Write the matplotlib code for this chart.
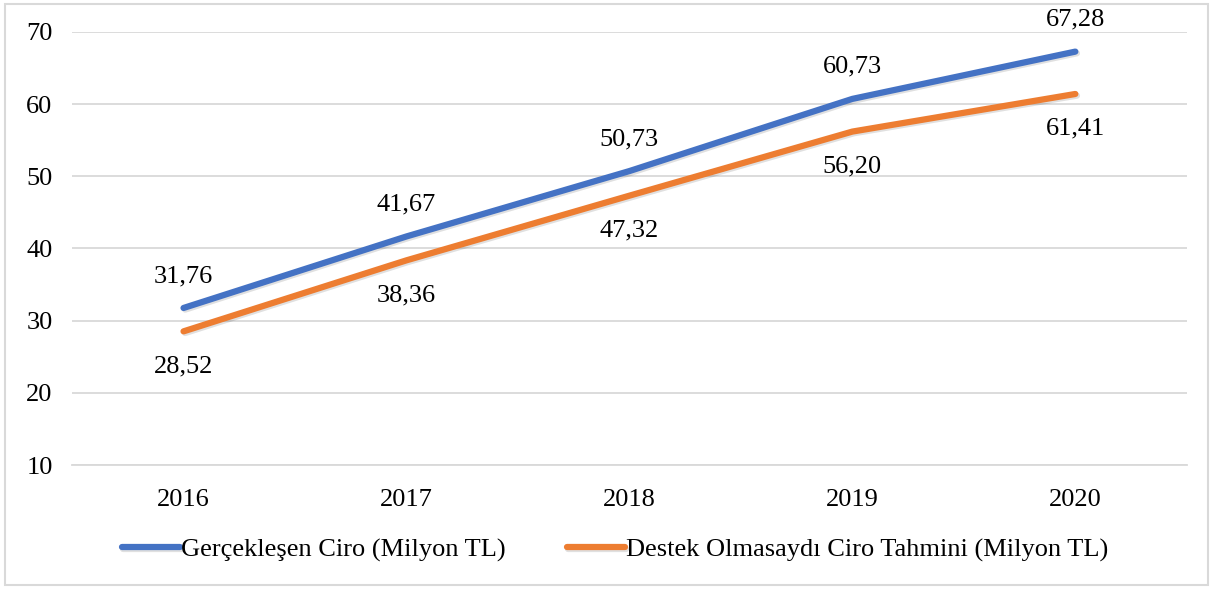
import matplotlib.pyplot as plt
import matplotlib.patheffects as pe

years = ['2016', '2017', '2018', '2019', '2020']
gerceklesen = [31.76, 41.67, 50.73, 60.73, 67.28]
destek_yok = [28.52, 38.36, 47.32, 56.20, 61.41]
yticks = [10, 20, 30, 40, 50, 60, 70]

plt.rcParams['font.family'] = ['Liberation Serif', 'DejaVu Serif']

fig = plt.figure(figsize=(12.13, 5.89), dpi=100)
ax = fig.add_axes([0.0594, 0.2105, 0.919, 0.7352])

blue = '#4472C4'
orange = '#ED7D31'
shadow = [pe.SimpleLineShadow(offset=(1.2, -1.2), alpha=0.12, rho=0.5), pe.Normal()]

x = range(len(years))
ax.plot(x, gerceklesen, color=blue, lw=4.5, solid_capstyle='round',
        label='Gerçekleşen Ciro (Milyon TL)', path_effects=shadow)
ax.plot(x, destek_yok, color=orange, lw=4.5, solid_capstyle='round',
        label='Destek Olmasaydı Ciro Tahmini (Milyon TL)', path_effects=shadow)

for i, v in enumerate(gerceklesen):
    ax.annotate(f'{v:.2f}'.replace('.', ','), (i, v), xytext=(0, 23),
                textcoords='offset points', ha='center', va='center', fontsize=19)
for i, v in enumerate(destek_yok):
    ax.annotate(f'{v:.2f}'.replace('.', ','), (i, v), xytext=(0, -25),
                textcoords='offset points', ha='center', va='center', fontsize=19)

ax.set_xlim(-0.5, len(years) - 0.5)
ax.set_ylim(10, 70)
ax.set_yticks(yticks)
ax.set_xticks(list(x))
ax.set_xticklabels(years)
ax.tick_params(length=0, labelsize=19)
ax.tick_params(axis='y', pad=14)
ax.tick_params(axis='x', pad=17)
ax.yaxis.grid(True, color='#D9D9D9', lw=1.3)
ax.set_axisbelow(True)
for s in ['top', 'right', 'left']:
    ax.spines[s].set_visible(False)
ax.spines['bottom'].set_color('#D9D9D9')
ax.spines['bottom'].set_linewidth(1.3)

fig.legend(loc='center', bbox_to_anchor=(0.507, 0.066), ncol=2, frameon=False,
           fontsize=19, handlelength=2.2, handletextpad=0.05, columnspacing=2.3)

border = plt.Rectangle((0.004, 0.006), 0.992, 0.988, transform=fig.transFigure,
                       fill=False, edgecolor='#D9D9D9', lw=1.5)
fig.patches.append(border)

fig.savefig('out.png', dpi=100)
